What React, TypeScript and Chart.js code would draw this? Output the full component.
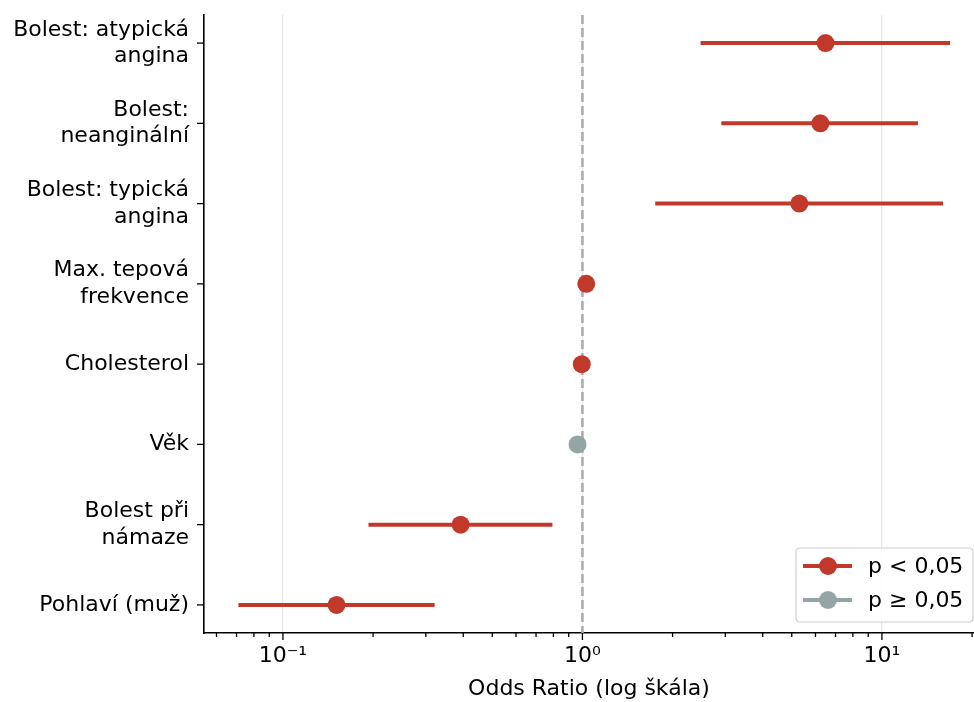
import React, { useEffect, useRef } from 'react';
import { Chart, registerables } from 'chart.js';

Chart.register(...registerables);

// Rows listed top to bottom
const categories: string[][] = [
  ['Bolest: atypická', 'angina'],
  ['Bolest:', 'neanginální'],
  ['Bolest: typická', 'angina'],
  ['Max. tepová', 'frekvence'],
  ['Cholesterol'],
  ['Věk'],
  ['Bolest při', 'námaze'],
  ['Pohlaví (muž)'],
];
const oddsRatios = [6.48, 6.23, 5.3, 1.03, 0.995, 0.963, 0.392, 0.151];
const ciLower = [2.48, 2.91, 1.75, 1.01, 0.99, 0.945, 0.193, 0.071];
const ciUpper = [16.9, 13.2, 16.0, 1.05, 1.0, 0.98, 0.794, 0.321];
const significant = [true, true, true, true, true, false, true, true];

const xTickValues = [0.1, 1, 10];
const xTickLabels = ['10⁻¹', '10⁰', '10¹'];
const xMin = 0.0545;
const xMax = 20.3;
const legendLabels = ['p < 0,05', 'p ≥ 0,05'];
const xAxisTitle = 'Odds Ratio (log škála)';

const RED = '#c0392b';
const GREY = '#95a5a6';
const FONT = "'DejaVu Sans', sans-serif";
const FS = 22;

const N = categories.length;
const rowY = (i: number) => N - 1 - i;

export default function App() {
  const canvasRef = useRef<HTMLCanvasElement | null>(null);

  useEffect(() => {
    const canvas = canvasRef.current;
    if (!canvas) return;

    const ciDatasets = categories.map((_, i) => ({
      type: 'scatter' as const,
      label: 'ci' + i,
      data: [
        { x: ciLower[i], y: rowY(i) },
        { x: ciUpper[i], y: rowY(i) },
      ],
      showLine: true,
      borderColor: significant[i] ? RED : GREY,
      backgroundColor: significant[i] ? RED : GREY,
      borderWidth: 4,
      borderCapStyle: 'butt' as const,
      pointRadius: 0,
      order: 2,
    }));

    const sigPoints = categories
      .map((_, i) => i)
      .filter((i) => significant[i])
      .map((i) => ({ x: oddsRatios[i], y: rowY(i) }));
    const nonSigPoints = categories
      .map((_, i) => i)
      .filter((i) => !significant[i])
      .map((i) => ({ x: oddsRatios[i], y: rowY(i) }));

    const forestPlugin = {
      id: 'forestExtras',
      beforeDatasetsDraw(chart: any) {
        const { ctx, chartArea } = chart;
        const xs = chart.scales.x;
        const px = xs.getPixelForValue(1);
        ctx.save();
        ctx.strokeStyle = '#aaaaaa';
        ctx.lineWidth = 2.5;
        ctx.setLineDash([9, 4]);
        ctx.beginPath();
        ctx.moveTo(px, chartArea.top);
        ctx.lineTo(px, chartArea.bottom);
        ctx.stroke();
        ctx.restore();
      },
      afterDraw(chart: any) {
        const { ctx, chartArea } = chart;
        const xs = chart.scales.x;
        const ys = chart.scales.y;
        ctx.save();
        ctx.strokeStyle = '#000';
        ctx.lineWidth = 1.3;
        // x ticks (major + minor)
        for (let e = -3; e <= 3; e++) {
          for (let m = 1; m <= 9; m++) {
            const v = m * Math.pow(10, e);
            if (v < xMin || v > xMax) continue;
            const p = xs.getPixelForValue(v);
            const len = m === 1 ? 7 : 4;
            ctx.beginPath();
            ctx.moveTo(p, chartArea.bottom);
            ctx.lineTo(p, chartArea.bottom + len);
            ctx.stroke();
          }
        }
        // y ticks
        categories.forEach((_, i) => {
          const p = ys.getPixelForValue(rowY(i));
          ctx.beginPath();
          ctx.moveTo(chartArea.left, p);
          ctx.lineTo(chartArea.left - 7, p);
          ctx.stroke();
        });
        // legend
        const bw = 177;
        const bh = 74;
        const bx = chartArea.right - 1 - bw;
        const by = chartArea.bottom - 11 - bh;
        const r = 4;
        ctx.beginPath();
        ctx.moveTo(bx + r, by);
        ctx.lineTo(bx + bw - r, by);
        ctx.quadraticCurveTo(bx + bw, by, bx + bw, by + r);
        ctx.lineTo(bx + bw, by + bh - r);
        ctx.quadraticCurveTo(bx + bw, by + bh, bx + bw - r, by + bh);
        ctx.lineTo(bx + r, by + bh);
        ctx.quadraticCurveTo(bx, by + bh, bx, by + bh - r);
        ctx.lineTo(bx, by + r);
        ctx.quadraticCurveTo(bx, by, bx + r, by);
        ctx.closePath();
        ctx.fillStyle = 'rgba(255,255,255,0.85)';
        ctx.fill();
        ctx.strokeStyle = '#d0d0d0';
        ctx.lineWidth = 1.2;
        ctx.stroke();
        const colors = [RED, GREY];
        legendLabels.forEach((lab, k) => {
          const cy = by + 18 + k * 34;
          ctx.strokeStyle = colors[k];
          ctx.lineWidth = 4;
          ctx.beginPath();
          ctx.moveTo(bx + 7, cy);
          ctx.lineTo(bx + 56, cy);
          ctx.stroke();
          ctx.fillStyle = colors[k];
          ctx.beginPath();
          ctx.arc(bx + 32, cy, 9, 0, Math.PI * 2);
          ctx.fill();
          ctx.fillStyle = '#000';
          ctx.font = `${FS}px ${FONT}`;
          ctx.textBaseline = 'middle';
          ctx.textAlign = 'left';
          ctx.fillText(lab, bx + 72, cy + 1);
        });
        ctx.restore();
      },
    };

    const chart = new Chart(canvas, {
      type: 'scatter',
      data: {
        datasets: [
          ...ciDatasets,
          {
            type: 'scatter' as const,
            label: legendLabels[0],
            data: sigPoints,
            pointRadius: 9,
            pointBackgroundColor: RED,
            pointBorderWidth: 0,
            backgroundColor: RED,
            borderColor: RED,
            order: 1,
          },
          {
            type: 'scatter' as const,
            label: legendLabels[1],
            data: nonSigPoints,
            pointRadius: 9,
            pointBackgroundColor: GREY,
            pointBorderWidth: 0,
            backgroundColor: GREY,
            borderColor: GREY,
            order: 1,
          },
        ] as any,
      },
      options: {
        responsive: false,
        animation: false,
        events: [],
        layout: { autoPadding: false, padding: { top: 15, right: 0, left: 0, bottom: 0 } },
        plugins: {
          legend: { display: false },
          tooltip: { enabled: false },
        },
        scales: {
          x: {
            type: 'logarithmic',
            min: xMin,
            max: xMax,
            afterBuildTicks: (scale: any) => {
              scale.ticks = xTickValues.map((v) => ({ value: v }));
            },
            afterFit: (scale: any) => {
              scale.height = 69;
              scale.paddingLeft = 0;
              scale.paddingRight = 0;
              scale.paddingTop = 0;
              scale.paddingBottom = 0;
            },
            grid: {
              display: true,
              color: '#e6e6e6',
              lineWidth: 1.2,
              drawTicks: false,
            },
            border: { display: true, color: '#000', width: 1.6 },
            ticks: {
              autoSkip: false,
              maxRotation: 0,
              padding: 10,
              color: '#000',
              font: { family: FONT, size: FS },
              callback: (_v: any, idx: number) => xTickLabels[idx],
            },
            title: {
              display: true,
              text: xAxisTitle,
              color: '#000',
              font: { family: FONT, size: FS },
              padding: { top: 0, bottom: 0 },
            },
          },
          y: {
            type: 'linear',
            min: -0.35,
            max: N - 1 + 0.35,
            afterBuildTicks: (scale: any) => {
              scale.ticks = categories.map((_, i) => ({ value: rowY(i) }));
            },
            afterFit: (scale: any) => {
              scale.width = 204;
              scale.paddingLeft = 0;
              scale.paddingRight = 0;
              scale.paddingTop = 0;
              scale.paddingBottom = 0;
            },
            grid: { display: false, drawTicks: false },
            border: { display: true, color: '#000', width: 1.6 },
            ticks: {
              autoSkip: false,
              padding: 15,
              color: '#000',
              font: { family: FONT, size: FS },
              callback: (v: any) => categories[N - 1 - Math.round(Number(v))],
            },
          },
        },
      },
      plugins: [forestPlugin],
    } as any);

    return () => {
      chart.destroy();
    };
  }, []);

  return (
    <div style={{ position: 'absolute', left: 0, top: 0, width: 974, height: 702, background: '#fff' }}>
      <canvas ref={canvasRef} width={974} height={702} />
    </div>
  );
}
